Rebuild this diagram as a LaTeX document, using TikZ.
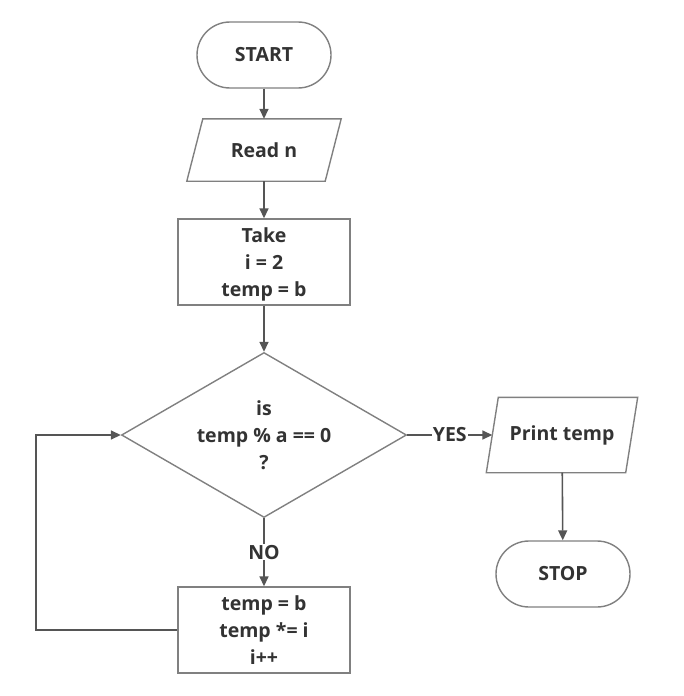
\documentclass[tikz,border=0pt]{standalone}
\usepackage{fontspec}
\setmainfont{Open Sans}
\usetikzlibrary{shapes.geometric,arrows.meta}

\definecolor{shapegray}{HTML}{808080}
\definecolor{arrowgray}{HTML}{555555}
\definecolor{textgray}{HTML}{333333}

\tikzset{
    shapeline/.style={draw=shapegray, line width=1.4pt},
    box/.style={shapeline, fill=white, text=textgray,
        font=\bfseries\fontsize{19.5}{27}\selectfont, align=center,
        minimum width=172pt, minimum height=86pt, inner sep=0pt},
    terminal/.style={box, rounded corners=33pt, minimum width=134pt, minimum height=66pt},
    inout/.style={box, draw=none, fill=none},
    decision/.style={box, diamond, shape aspect=1.73, minimum width=285pt, minimum height=165pt},
    flow/.style={draw=arrowgray, line width=1.6pt, -{Triangle[length=10pt,width=9pt]}},
    flowlabel/.style={fill=white, text=textgray, inner sep=1pt,
        font=\bfseries\fontsize{19.5}{22}\selectfont},
}

\begin{document}
\begin{tikzpicture}[x=1pt, y=-1pt]
    \useasboundingbox (0,0) rectangle (683,696);

    % main column
    \node[terminal] (start) at (264,55) {START};
    \node[inout, minimum width=137pt, minimum height=61pt] (read) at (264,150) {Read n};
    \draw[shapeline] ([xshift=8pt]read.north west) -- ([xshift=8pt]read.north east)
        -- ([xshift=-8pt]read.south east) -- ([xshift=-8pt]read.south west) -- cycle;
    \node[box] (take) at (264,262) {Take\\i = 2\\\smash{temp = b}};
    \node[decision] (check) at (264,435) {is\\temp \% a == 0\\?};
    \node[box] (update) at (264,630) {temp = b\\temp *= i\\\smash{i++}};

    % right column
    \node[inout, minimum width=138pt, minimum height=74pt] (print) at (562,435) {Print temp};
    \draw[shapeline] ([xshift=6pt]print.north west) -- ([xshift=6pt]print.north east)
        -- ([xshift=-6pt]print.south east) -- ([xshift=-6pt]print.south west) -- cycle;
    \node[terminal] (stop) at (563,574) {STOP};

    % connectors
    \draw[flow] (start) -- (read);
    \draw[flow] (read) -- (take);
    \draw[flow] (take) -- (check);
    \draw[flow] (check.east) -- node[flowlabel] {YES} (print.west);
    \draw[flow] (print) -- (stop);
    \draw[flow] (check.south) -- node[flowlabel] {NO} (update.north);

    % loop back
    \coordinate (back) at (36,630);
    \draw[flow] (update.west) -- (back) |- (check.west);
\end{tikzpicture}
\end{document}
